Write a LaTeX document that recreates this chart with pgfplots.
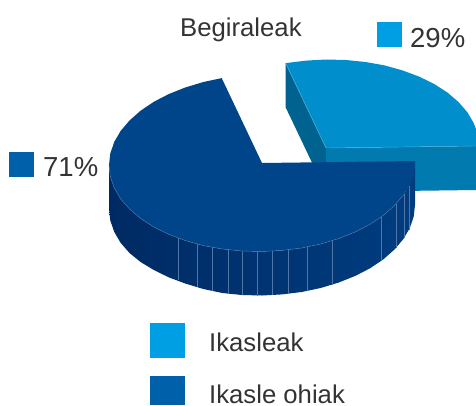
\documentclass[border=0pt]{standalone}
\usepackage{fontspec}
\setmainfont{Liberation Sans}
\usepackage{pgfplots}
\pgfplotsset{compat=1.18}
\definecolor{faceDark}{HTML}{00458A}
\definecolor{wallDarkL}{HTML}{002A63}
\definecolor{wallDarkR}{HTML}{003D80}
\definecolor{faceLight}{HTML}{008FCC}
\definecolor{wallFront}{HTML}{007AAF}
\definecolor{wallSide}{HTML}{00628F}
\definecolor{swatchLight}{HTML}{009FE3}
\definecolor{swatchDark}{HTML}{0060A9}
\definecolor{txt}{HTML}{333332}
\definecolor{seam}{HTML}{4F76A6}
\tikzset{
  lbl/.style={anchor=base west, inner sep=0pt, text=txt, font=\fontsize{25.7}{30}\selectfont},
  pct/.style={lbl, font=\fontsize{27.5}{30}\selectfont},
  swatch/.style={fill=#1, draw=none},
  seamline/.style={draw=seam, line width=0.4pt, no markers},
}
\begin{document}
\begin{tikzpicture}
\begin{axis}[
    scale only axis,
    width=476pt, height=405pt,
    xmin=0, xmax=476, ymin=0, ymax=405,
    y dir=reverse,
    hide axis,
    every axis plot/.append style={forget plot},
  ]
  % keep the whole image area in the bounding box
  \addplot[draw=none] coordinates {(0,0) (476,405)};

  % Ikasleak slice, pulled out
  \addplot[fill=wallSide, draw=none] coordinates {(285.5,63) (326,148) (326,192) (285.5,107)};
  \addplot[fill=wallFront, draw=none] coordinates {(326,148) (476,146) (476,190) (326,192)};
  \addplot[fill=faceLight, draw=none] coordinates {
    (326,148) (285.7,63.1) (306,60.6) (326,59.5) (346,60.0) (365.6,62.0) (384.6,65.4)
    (402.5,70.4) (419.1,76.6) (434.2,84.0) (447.4,92.5) (458.5,102.0) (467.4,112.3)
    (473.8,123.2) (476,129) (476,146)};
  \addplot[draw=faceLight!70!white, line width=0.4pt] coordinates {(285.7,63.1) (326,148) (476,146)};

  % Ikasle ohiak slice: side wall
  \addplot[left color=wallDarkL, right color=wallDarkR, draw=none] coordinates {
    (415,161) (413.7,172.5) (409.8,184.0) (403.4,195.0) (394.5,205.5) (383.4,215.3)
    (370.2,224.2) (355.1,232.0) (338.5,238.6) (320.6,244.0) (301.6,248.0) (282.0,250.4)
    (262,251.5) (242,251.0) (222.4,249.0) (203.4,245.6) (185.5,240.6) (168.9,234.4)
    (153.8,227.0) (140.6,218.5) (129.5,209.0) (120.6,198.8) (114.2,187.8) (110.3,176.5)
    (109,165) (109,209) (110.3,220.5) (114.2,231.8) (120.6,242.8) (129.5,253.0)
    (140.6,262.0) (153.8,270.0) (168.9,277.4) (185.5,283.6) (203.4,289.0) (222.4,293.0)
    (242,295.0) (262,295.5) (282.0,294.4) (301.6,292.0) (320.6,288.0) (338.5,282.6)
    (355.1,276.0) (370.2,268.2) (383.4,259.3) (394.5,249.5) (403.4,239.0) (409.8,228.0)
    (413.7,216.5) (415,205)};

  % seams between the wall facets
  \addplot[seamline] coordinates {(178.3,238.2) (178.3,280.2)};
  \addplot[seamline] coordinates {(196.7,243.9) (196.7,286.9)};
  \addplot[seamline] coordinates {(212.3,247.3) (212.3,291.3)};
  \addplot[seamline] coordinates {(227.7,249.7) (227.7,293.7)};
  \addplot[seamline] coordinates {(241.7,251) (241.7,295)};
  \addplot[seamline] coordinates {(256.7,251.5) (256.7,295.5)};
  \addplot[seamline] coordinates {(272,251.2) (272,295.2)};
  \addplot[seamline] coordinates {(288.3,249.8) (288.3,293.8)};
  \addplot[seamline] coordinates {(306.7,247) (306.7,291)};
  \addplot[seamline] coordinates {(331.7,240.9) (331.7,284.9)};
  \addplot[seamline] coordinates {(380.7,217.3) (380.7,261.3)};
  \addplot[seamline] coordinates {(395.7,204.3) (395.7,248.3)};
  \addplot[seamline] coordinates {(404,194) (404,238)};
  \addplot[seamline] coordinates {(409,185.6) (409,229.6)};

  % Ikasle ohiak slice: top face
  \addplot[fill=faceDark, draw=none] coordinates {
    (262,163) (415,161) (413.7,172.5) (409.8,184.0) (403.4,195.0) (394.5,205.5) (383.4,215.3)
    (370.2,224.2) (355.1,232.0) (338.5,238.6) (320.6,244.0) (301.6,248.0) (282.0,250.4)
    (262,251.5) (242,251.0) (222.4,249.0) (203.4,245.6) (185.5,240.6) (168.9,234.4)
    (153.8,227.0) (140.6,218.5) (129.5,209.0) (120.6,198.8) (114.2,187.8) (110.3,176.5)
    (109,165) (110.3,153.5) (114.2,142.0) (120.6,131.0) (129.5,120.5) (140.6,110.7)
    (153.8,101.8) (168.9,94.0) (185.5,87.4) (203.4,82.0) (221.7,78.1)};
  \addplot[seamline] coordinates {
    (403.4,195.0) (394.5,205.5) (383.4,215.3)
    (370.2,224.2) (355.1,232.0) (338.5,238.6) (320.6,244.0) (301.6,248.0) (282.0,250.4)
    (262,251.5) (242,251.0) (222.4,249.0) (203.4,245.6) (185.5,240.6) (168.9,234.4)
    (153.8,227.0) (140.6,218.5) (129.5,209.0) (120.6,198.8) (114.2,187.8) (110.3,176.5)
    (109,165)};

  % swatches
  \addplot[swatch=swatchLight] coordinates {(377,22) (402,22) (402,47) (377,47)};
  \addplot[swatch=swatchDark] coordinates {(9,152) (34,152) (34,177) (9,177)};
  \addplot[swatch=swatchLight] coordinates {(150,323) (185,323) (185,358) (150,358)};
  \addplot[swatch=swatchDark] coordinates {(150,376) (185,376) (185,405) (150,405)};

  \node[lbl] at (axis cs:180,36) {Begiraleak};
  \node[pct] at (axis cs:410,47) {29\%};
  \node[pct] at (axis cs:43,176) {71\%};
  \node[lbl] at (axis cs:209,351) {Ikasleak};
  \node[lbl] at (axis cs:209,403) {Ikasle ohiak};
\end{axis}
\end{tikzpicture}
\end{document}
